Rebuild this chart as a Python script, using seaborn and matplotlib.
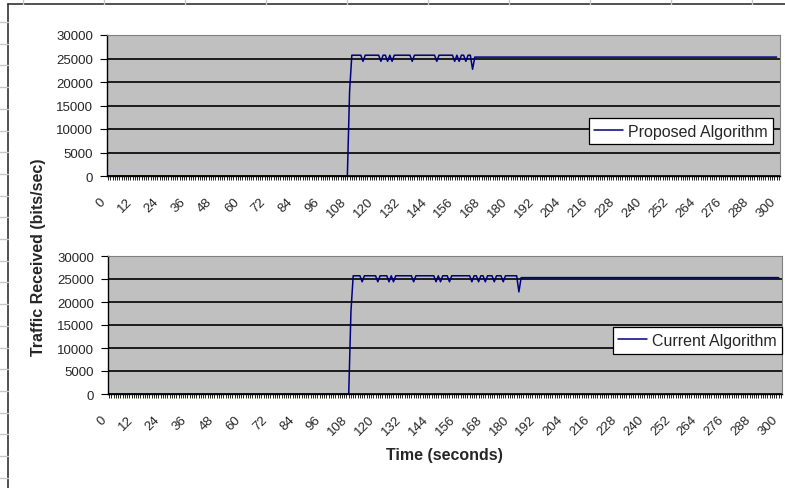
import numpy as np
import pandas as pd
import matplotlib
matplotlib.use('Agg')
import matplotlib.pyplot as plt
import matplotlib.transforms as mtransforms
from matplotlib.lines import Line2D
from matplotlib.ticker import MultipleLocator
import seaborn as sns

# --- data (one sample per second) ---
seconds = list(range(0, 301))
last_sample = 299
x_ticks = list(range(0, 301, 12))
y_ticks = [0, 5000, 10000, 15000, 20000, 25000, 30000]

rise_times = [108, 109]
rise_values = [18000, 25700]
peak_level = 25700
dip_level = 24400
settled_level = 25300

proposed_dip_times = [114, 122, 125, 127, 136, 147, 155, 157, 160]
proposed_big_dip = (163, 22700)
current_dip_times = [113, 120, 125, 127, 136, 146, 148, 152, 162, 165, 168, 172, 176]
current_big_dip = (183, 22200)


def build_series(dip_times, big_dip):
    values = []
    for t in seconds:
        if t > last_sample:
            values.append(np.nan)
        elif t < rise_times[0]:
            values.append(0)
        elif t in rise_times:
            values.append(rise_values[rise_times.index(t)])
        elif t < big_dip[0]:
            values.append(dip_level if t in dip_times else peak_level)
        elif t == big_dip[0]:
            values.append(big_dip[1])
        else:
            values.append(settled_level)
    return pd.DataFrame({'Time': seconds, 'Traffic': values})


proposed_df = build_series(proposed_dip_times, proposed_big_dip)
current_df = build_series(current_dip_times, current_big_dip)

sns.set_style('white')
plt.rcParams['font.family'] = ['Liberation Sans', 'DejaVu Sans']

W, H = 785, 489
fig = plt.figure(figsize=(W / 100, H / 100), dpi=100)
fig.patch.set_facecolor('white')
label_shift = mtransforms.ScaledTranslation(-5 / 100, 0, fig.dpi_scale_trans)


def px_axes(x0, y0, x1, y1):
    return fig.add_axes([x0 / W, 1 - y1 / H, (x1 - x0) / W, (y1 - y0) / H])


def style_axes(ax):
    ax.set_facecolor('#c0c0c0')
    ax.set_xlim(-0.5, 300.5)
    ax.set_ylim(0, 30000)
    ax.set_yticks(y_ticks)
    ax.set_xticks(x_ticks)
    ax.xaxis.set_minor_locator(MultipleLocator(1))
    ax.grid(axis='y', color='black', linewidth=1.2)
    ax.get_ygridlines()[-1].set_visible(False)
    ax.set_axisbelow(True)
    for side in ['top', 'right']:
        ax.spines[side].set_color('#808080')
        ax.spines[side].set_linewidth(0.8)
    for side in ['left', 'bottom']:
        ax.spines[side].set_color('black')
        ax.spines[side].set_linewidth(1.0)
    ax.tick_params(axis='x', which='both', direction='out', length=3, width=0.6,
                   color='black', pad=14, labelsize=9.5, bottom=True)
    ax.tick_params(axis='y', direction='out', length=5, width=0.8,
                   color='black', pad=5, labelsize=9.5, left=True)
    for lab in ax.get_xticklabels():
        lab.set_rotation(45)
        lab.set_ha('right')
        lab.set_va('center')
        lab.set_rotation_mode('anchor')
        lab.set_transform(lab.get_transform() + label_shift)
    ax.set_xlabel('')
    ax.set_ylabel('')


def add_legend(ax, anchor):
    leg = ax.legend(loc='center right', bbox_to_anchor=anchor, borderaxespad=0,
                    fontsize=11.5, handlelength=1.8, handletextpad=0.3,
                    borderpad=0.35, fancybox=False, framealpha=1, shadow=False)
    leg.get_frame().set_edgecolor('black')
    leg.get_frame().set_linewidth(0.9)


ax_top = px_axes(107, 36, 780, 177)
sns.lineplot(data=proposed_df, x='Time', y='Traffic', ax=ax_top, color='#000080',
             linewidth=1.1, label='Proposed Algorithm')
style_axes(ax_top)
add_legend(ax_top, (0.9896, 0.319))

ax_bot = px_axes(108, 257, 782, 395)
sns.lineplot(data=current_df, x='Time', y='Traffic', ax=ax_bot, color='#000080',
             linewidth=1.1, label='Current Algorithm')
style_axes(ax_bot)
add_legend(ax_bot, (1.0, 0.388))

fig.text(39 / W, 1 - 257 / H, 'Traffic Received (bits/sec)', rotation=90,
         ha='center', va='center', fontsize=11.5, fontweight='bold')
fig.text(444 / W, 1 - 456 / H, 'Time (seconds)', ha='center', va='center',
         fontsize=11.5, fontweight='bold')

# sheet border remnants around the chart
fig.add_artist(Line2D([8 / W, 1], [1 - 5 / H, 1 - 5 / H], color='#333333', lw=1.2))
fig.add_artist(Line2D([8 / W, 8 / W], [0, 1 - 5 / H], color='#333333', lw=1.2))
for cx in [23, 104, 185, 266, 347, 428, 509, 590, 671, 752]:
    fig.add_artist(Line2D([cx / W, cx / W], [1 - 5 / H, 1], color='#c8c8c8', lw=1))
for ry in np.arange(23, 489, 21.7):
    fig.add_artist(Line2D([0, 8 / W], [1 - ry / H, 1 - ry / H], color='#c8c8c8', lw=1))

fig.savefig('out.png', dpi=100)
